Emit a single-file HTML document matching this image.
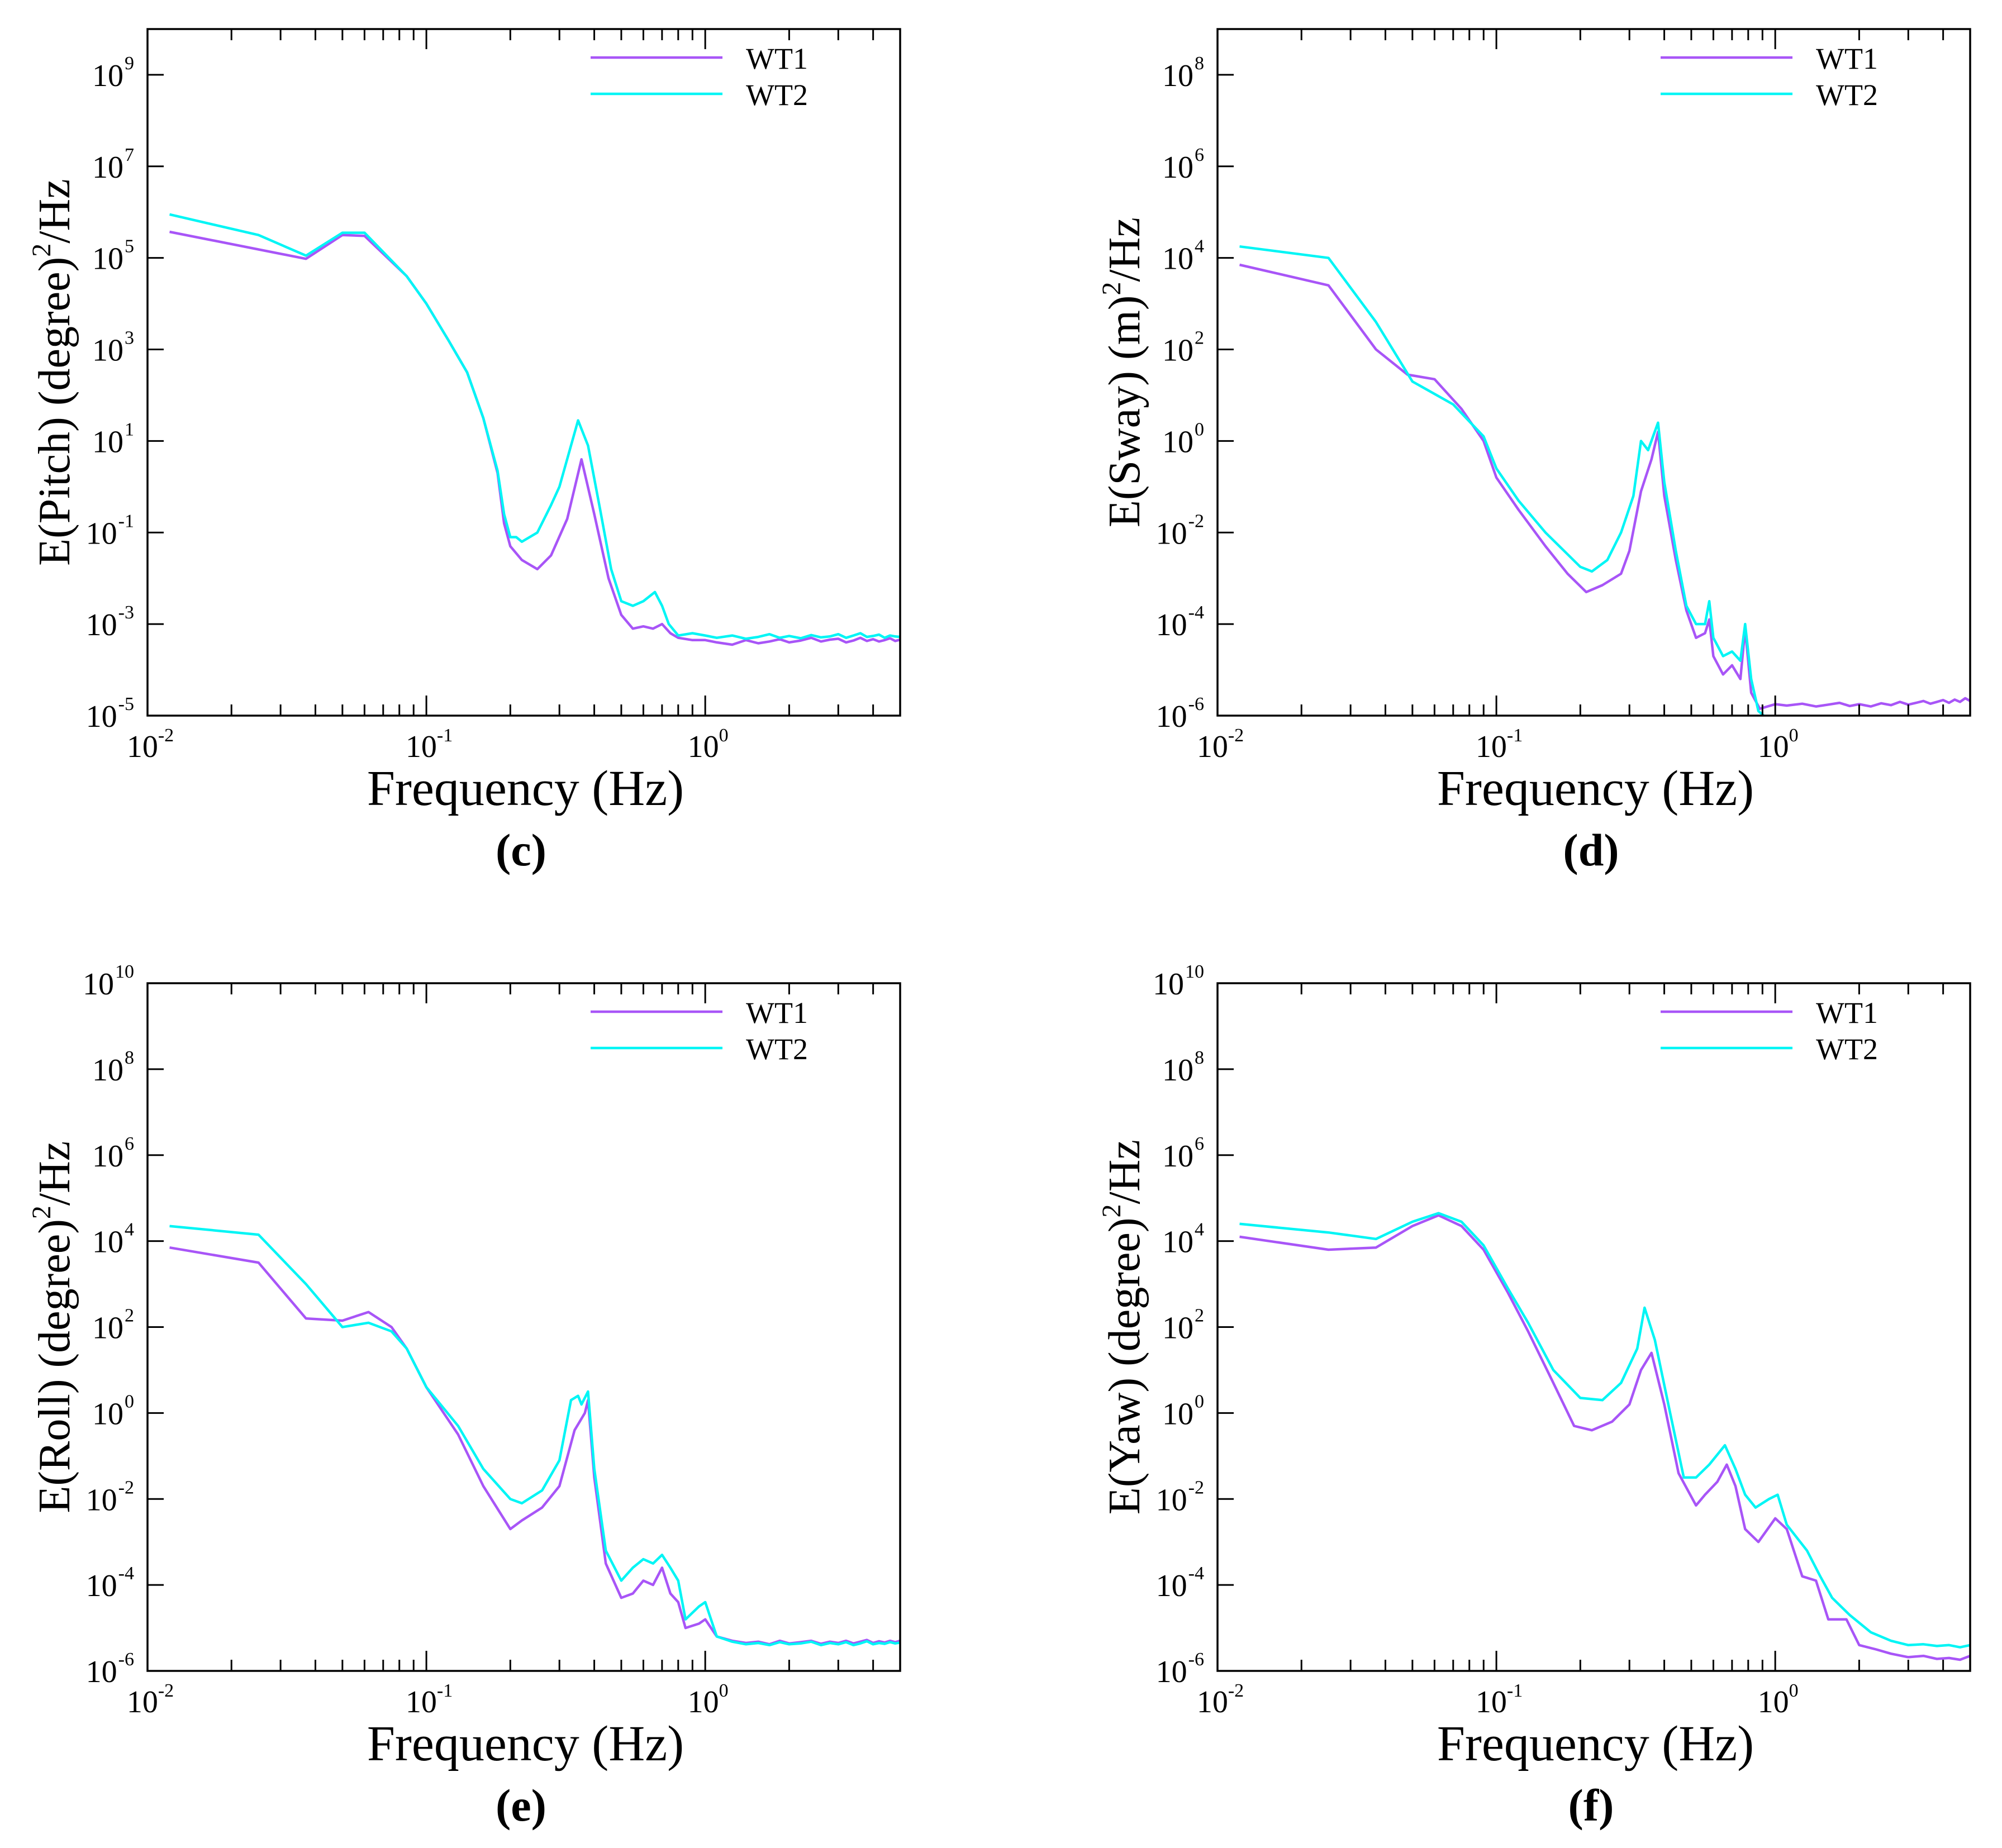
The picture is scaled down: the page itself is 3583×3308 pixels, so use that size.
<!DOCTYPE html>
<html><head><meta charset="utf-8"><style>
html,body{margin:0;padding:0;background:#fff;}
svg{display:block;font-family:"Liberation Serif",serif;}
text{font-family:"Liberation Serif",serif;}
</style></head><body>
<svg id="fig" width="3583" height="3308" viewBox="0 0 3583 3308" xmlns="http://www.w3.org/2000/svg" font-family="Liberation Serif, serif"></svg>
<script>
// ---------- data (frequency in Hz, PSD as log10 exponent) ----------
const noiseFreq = [1.1,1.25,1.4,1.55,1.7,1.85,2.0,2.2,2.4,2.6,2.8,3.0,3.2,3.4,3.6,3.8,4.0,4.2,4.4,4.6,4.8,5.0];

const cFreq1 = [0.012,0.037,0.05,0.06,0.085,0.1,0.12,0.14,0.16,0.18,0.19,0.2,0.22,0.25,0.28,0.32,0.36,0.4,0.45,0.5,0.55,0.6,0.65,0.7,0.75,0.8,0.9,1.0];
const cVal1 = [5.57,4.98,5.5,5.48,4.6,4.0,3.2,2.5,1.5,0.3,-0.8,-1.3,-1.6,-1.8,-1.5,-0.7,0.6,-0.6,-2.0,-2.8,-3.1,-3.05,-3.1,-3.0,-3.2,-3.3,-3.35,-3.35];
const cNoise1 = [-3.4,-3.45,-3.35,-3.42,-3.38,-3.33,-3.4,-3.36,-3.3,-3.38,-3.34,-3.32,-3.4,-3.36,-3.3,-3.37,-3.33,-3.38,-3.35,-3.31,-3.37,-3.34];
const cFreq2 = [0.012,0.025,0.037,0.05,0.06,0.085,0.1,0.12,0.14,0.16,0.18,0.19,0.2,0.21,0.22,0.25,0.28,0.3,0.35,0.38,0.42,0.46,0.5,0.55,0.6,0.66,0.7,0.74,0.8,0.9,1.0];
const cVal2 = [5.95,5.5,5.05,5.55,5.55,4.6,4.0,3.2,2.5,1.5,0.35,-0.6,-1.1,-1.1,-1.2,-1.0,-0.4,0.0,1.45,0.9,-0.5,-1.8,-2.5,-2.6,-2.5,-2.3,-2.6,-3.0,-3.25,-3.2,-3.25];
const cNoise2 = [-3.3,-3.25,-3.32,-3.28,-3.22,-3.3,-3.26,-3.31,-3.24,-3.29,-3.27,-3.22,-3.3,-3.25,-3.2,-3.28,-3.26,-3.23,-3.3,-3.25,-3.27,-3.28];

const dFreq1 = [0.012,0.025,0.037,0.048,0.06,0.075,0.09,0.1,0.12,0.15,0.18,0.21,0.24,0.28,0.3,0.33,0.36,0.38,0.4,0.44,0.48,0.52,0.56,0.58,0.6,0.65,0.7,0.75,0.78,0.82,0.88,1.0];
const dVal1 = [3.85,3.4,2.0,1.45,1.35,0.7,0.0,-0.8,-1.5,-2.3,-2.9,-3.3,-3.15,-2.9,-2.4,-1.1,-0.4,0.2,-1.2,-2.6,-3.7,-4.3,-4.2,-3.9,-4.7,-5.1,-4.9,-5.2,-4.1,-5.5,-5.85,-5.75];
const dNoise1 = [-5.78,-5.74,-5.8,-5.76,-5.72,-5.79,-5.75,-5.8,-5.73,-5.77,-5.7,-5.76,-5.72,-5.68,-5.74,-5.7,-5.66,-5.72,-5.65,-5.7,-5.62,-5.68];
const dFreq2 = [0.012,0.025,0.037,0.05,0.07,0.09,0.1,0.12,0.15,0.2,0.22,0.25,0.28,0.31,0.33,0.35,0.38,0.4,0.44,0.48,0.52,0.56,0.58,0.6,0.65,0.7,0.75,0.78,0.82,0.87,0.95,1.05];
const dVal2 = [4.25,4.0,2.6,1.3,0.8,0.1,-0.6,-1.3,-2.0,-2.75,-2.85,-2.6,-2.0,-1.2,0.0,-0.2,0.4,-0.9,-2.4,-3.6,-4.0,-4.0,-3.5,-4.3,-4.7,-4.6,-4.8,-4.0,-5.2,-5.9,-6.1,-6.3];

const eFreq1 = [0.012,0.025,0.037,0.05,0.062,0.075,0.085,0.1,0.13,0.16,0.2,0.22,0.26,0.3,0.34,0.37,0.38,0.4,0.44,0.5,0.55,0.6,0.65,0.7,0.75,0.8,0.85,0.95,1.0];
const eVal1 = [3.85,3.5,2.2,2.15,2.35,2.0,1.5,0.6,-0.5,-1.7,-2.7,-2.5,-2.2,-1.7,-0.4,0.0,0.3,-1.5,-3.5,-4.3,-4.2,-3.9,-4.0,-3.6,-4.2,-4.4,-5.0,-4.9,-4.8];
const eNoise1 = [-5.2,-5.3,-5.35,-5.32,-5.38,-5.3,-5.36,-5.33,-5.3,-5.37,-5.32,-5.35,-5.3,-5.36,-5.32,-5.28,-5.35,-5.31,-5.34,-5.3,-5.33,-5.3];
const eFreq2 = [0.012,0.025,0.037,0.05,0.062,0.075,0.085,0.1,0.13,0.16,0.2,0.22,0.26,0.3,0.33,0.35,0.36,0.38,0.4,0.44,0.5,0.55,0.6,0.65,0.7,0.75,0.8,0.85,0.95,1.0];
const eVal2 = [4.35,4.15,3.0,2.0,2.1,1.9,1.5,0.6,-0.3,-1.3,-2.0,-2.1,-1.8,-1.1,0.3,0.4,0.2,0.5,-1.3,-3.2,-3.9,-3.6,-3.4,-3.5,-3.3,-3.6,-3.9,-4.8,-4.5,-4.4];
const eNoise2 = [-5.2,-5.32,-5.38,-5.35,-5.4,-5.33,-5.38,-5.36,-5.32,-5.4,-5.35,-5.38,-5.33,-5.4,-5.36,-5.31,-5.38,-5.35,-5.37,-5.33,-5.36,-5.34];

const fFreq1 = [0.012,0.025,0.037,0.05,0.062,0.075,0.09,0.11,0.13,0.16,0.19,0.22,0.26,0.3,0.33,0.36,0.4,0.45,0.52,0.56,0.62,0.67,0.72,0.78,0.87,1.0,1.1,1.25,1.4,1.55,1.8,2.0,2.3,2.6,3.0,3.4,3.8,4.2,4.6,5.0];
const fVal1 = [4.1,3.8,3.85,4.35,4.6,4.35,3.8,2.8,1.9,0.7,-0.3,-0.4,-0.2,0.2,1.0,1.4,0.2,-1.4,-2.15,-1.9,-1.6,-1.2,-1.7,-2.7,-3.0,-2.45,-2.7,-3.8,-3.9,-4.8,-4.8,-5.4,-5.5,-5.6,-5.68,-5.65,-5.72,-5.7,-5.74,-5.65];
const fFreq2 = [0.012,0.025,0.037,0.05,0.062,0.075,0.09,0.11,0.13,0.16,0.2,0.24,0.28,0.32,0.34,0.37,0.42,0.47,0.52,0.58,0.66,0.72,0.78,0.85,0.95,1.02,1.1,1.3,1.45,1.6,1.85,2.2,2.6,3.0,3.4,3.8,4.2,4.6,5.0];
const fVal2 = [4.4,4.2,4.05,4.45,4.65,4.45,3.9,2.9,2.1,1.0,0.35,0.3,0.7,1.5,2.45,1.7,0.0,-1.5,-1.5,-1.2,-0.75,-1.3,-1.9,-2.2,-2.0,-1.9,-2.6,-3.2,-3.8,-4.3,-4.7,-5.1,-5.3,-5.4,-5.38,-5.42,-5.4,-5.45,-5.4];

const panelLetters = ['c','d','e','f'];
const yTitles = ['E(Pitch) (degree)','E(Sway) (m)','E(Roll) (degree)','E(Yaw) (degree)'];
const yMins = [-5,-6,-6,-6];
const yMaxs = [10,9,10,10];
const yLabelStarts = [-5,-6,-6,-6];
const seriesNames = ['WT1','WT2'];

// ---------- drawing ----------
const NS='http://www.w3.org/2000/svg';
const svg=document.getElementById('fig');
const PURPLE='#a855f7', CYAN='#00f5f5';
const FONT='Liberation Serif, serif';
function mk(tag,attrs,parent){const e=document.createElementNS(NS,tag);for(const k in attrs)e.setAttribute(k,attrs[k]);if(tag==='text')e.setAttribute('font-family',FONT);(parent||svg).appendChild(e);return e;}
function withNoise(fr,vals,nf,nv){if(!nf)return [fr,vals];return [fr.concat(nf),vals.concat(nv)];}

const boxes=[{x:264,y:52,w:1347,h:1229},{x:2179,y:52,w:1347,h:1229},{x:264,y:1760,w:1347,h:1231},{x:2179,y:1760,w:1347,h:1231}];
const XMIN=-2, XMAX=Math.log10(5);
const series=[
 [withNoise(cFreq1,cVal1,noiseFreq,cNoise1),withNoise(cFreq2,cVal2,noiseFreq,cNoise2)],
 [withNoise(dFreq1,dVal1,noiseFreq,dNoise1),withNoise(dFreq2,dVal2)],
 [withNoise(eFreq1,eVal1,noiseFreq,eNoise1),withNoise(eFreq2,eVal2,noiseFreq,eNoise2)],
 [withNoise(fFreq1,fVal1),withNoise(fFreq2,fVal2)]
];

boxes.forEach((b,i)=>{
  const g=mk('g',{});
  
  
  const ymin=yMins[i], ymax=yMaxs[i];
  const X=f=>b.x+(Math.log10(f)-XMIN)/(XMAX-XMIN)*b.w;
  const Y=v=>b.y+b.h-(v-ymin)/(ymax-ymin)*b.h;
  const cid='clip'+i;
  const cp=mk('clipPath',{id:cid},g); mk('rect',{x:b.x,y:b.y,width:b.w,height:b.h},cp);
  series[i].forEach((s,k)=>{
    const [fr,vals]=s;
    const d=fr.map((f,j)=>(j?'L':'M')+X(f).toFixed(1)+','+Y(vals[j]).toFixed(1)).join('');
    const p=mk('path',{d:d,fill:'none',stroke:k?CYAN:PURPLE,'stroke-width':4.5,'stroke-linejoin':'round','clip-path':'url(#'+cid+')'},g);
    
    
  });
  for(let e=-2;e<=0;e++){for(let m=1;m<=9;m++){const f=m*Math.pow(10,e); if(Math.log10(f)>XMAX+1e-9)break;
    const x=X(f), L=(m===1)?36:20;
    mk('line',{x1:x,y1:b.y+b.h,x2:x,y2:b.y+b.h-L,stroke:'#000','stroke-width':3},g);
    mk('line',{x1:x,y1:b.y,x2:x,y2:b.y+L,stroke:'#000','stroke-width':3},g);
    if(m===1){const t=mk('text',{x:x+5,y:b.y+b.h+74,'font-size':56,'text-anchor':'middle'},g);
       
      t.textContent='10'; const s=mk('tspan',{'font-size':34,dy:-28},t); s.textContent=String(e);}
  }}
  for(let v=yLabelStarts[i]; v<=ymax; v+=2){const y=Y(v);
    if(v>ymin&&v<ymax) mk('line',{x1:b.x,y1:y,x2:b.x+29,y2:y,stroke:'#000','stroke-width':3},g);
    const t=mk('text',{x:b.x-24,y:y+20,'font-size':56,'text-anchor':'end'},g);
     
    t.textContent='10'; const s=mk('tspan',{'font-size':34,dy:-30,dx:2},t); s.textContent=String(v);
  }
  const r=mk('rect',{x:b.x,y:b.y,width:b.w,height:b.h,fill:'none',stroke:'#000','stroke-width':3.5},g);
   
  [0,1].forEach(k=>{const ly=b.y+51+k*65;
    const l=mk('line',{x1:b.x+793,y1:ly,x2:b.x+1029,y2:ly,stroke:k?CYAN:PURPLE,'stroke-width':4.5},g);
     
    const t=mk('text',{x:b.x+1071,y:ly+20,'font-size':54},g);
     
    t.textContent=seriesNames[k];});
  const xt=mk('text',{x:b.x+b.w/2+3,y:b.y+b.h+160,'font-size':90,'text-anchor':'middle'},g);
   
  xt.textContent='Frequency (Hz)';
  const cy=b.y+b.h/2, cx=b.x-140;
  const yt=mk('text',{x:cx,y:cy,'font-size':80,'text-anchor':'middle',transform:'rotate(-90 '+cx+' '+cy+')'},g);
   
  yt.textContent=yTitles[i];
  const sup=mk('tspan',{'font-size':48,dy:-34},yt); sup.textContent='2';
  const rest=mk('tspan',{dy:34},yt); rest.textContent='/Hz';
  const pl=mk('text',{x:b.x+b.w/2-5,y:b.y+b.h+268,'font-size':82,'font-weight':'bold','text-anchor':'middle'},g);
   
  pl.textContent='('+panelLetters[i]+')';
});
</script>
</body></html>
